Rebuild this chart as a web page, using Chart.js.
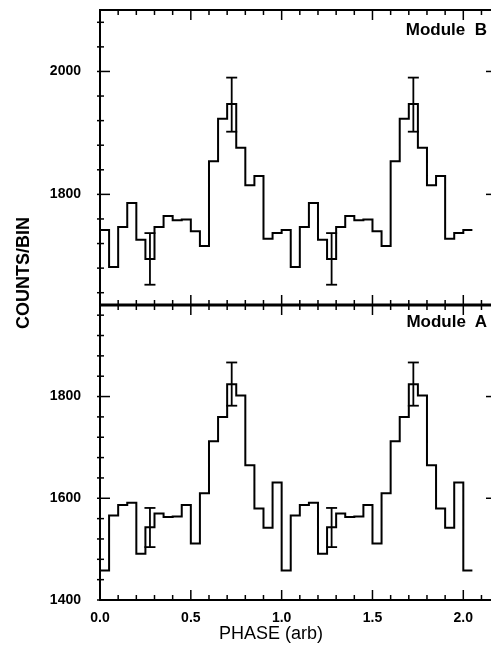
<!DOCTYPE html>
<html>
<head>
<meta charset="utf-8">
<script src="https://cdn.jsdelivr.net/npm/chart.js@4/dist/chart.umd.min.js"></script>
<style>
  html, body { margin: 0; padding: 0; background: #fff; }
  #wrap { position: relative; width: 491px; height: 656px; overflow: hidden; }
  #chart { position: absolute; left: 0; top: 0; }
  .lbl { position: absolute; color: #000; font-family: "Liberation Sans", Arial, Helvetica, sans-serif; white-space: pre; line-height: 1; }
  #ytitle { left: 23px; top: 273px; font-weight: bold; font-size: 18px; transform: translate(-50%, -50%) rotate(-90deg); }
  #xtitle { left: 271px; top: 633px; font-size: 18px; transform: translate(-50%, -50%); }
  .mod { right: 4px; font-weight: bold; font-size: 17px; transform: translateY(-50%); }
</style>
</head>
<body>
<div id="wrap">
  <canvas id="chart" width="500" height="656"></canvas>
  <div class="lbl" id="ytitle">COUNTS/BIN</div>
  <div class="lbl" id="xtitle">PHASE (arb)</div>
  <div class="lbl mod" style="top:29px">Module  B</div>
  <div class="lbl mod" style="top:321px">Module  A</div>
</div>
<script>
// counts per 0.05-phase bin, left edge of each bin at index * BIN_WIDTH
const BIN_WIDTH = 0.05;

const MODULE_B = [
  1742, 1682, 1747, 1786, 1726, 1695, 1747, 1765, 1758, 1759,
  1740, 1716, 1854, 1923, 1947, 1876, 1815, 1830, 1728, 1737,
  1742, 1682, 1747, 1786, 1726, 1695, 1747, 1765, 1758, 1759,
  1740, 1716, 1854, 1923, 1947, 1876, 1815, 1830, 1728, 1737,
  1742,
];

const MODULE_A = [
  1458, 1566, 1587, 1591, 1491, 1543, 1570, 1563, 1564, 1587,
  1511, 1610, 1712, 1760, 1824, 1802, 1665, 1580, 1542, 1631,
  1458, 1566, 1587, 1591, 1491, 1543, 1570, 1563, 1564, 1587,
  1511, 1610, 1712, 1760, 1824, 1802, 1665, 1580, 1542, 1631,
  1458,
];

// sample error bars
const ERR_PHASE = [0.275, 0.725, 1.275, 1.725];
const ERR_B_LO = [1653, 1902, 1653, 1902];
const ERR_B_HI = [1737, 1990, 1737, 1990];
const ERR_A_LO = [1504, 1782, 1504, 1782];
const ERR_A_HI = [1581, 1867, 1581, 1867];

const X_TICKS = [0, 0.5, 1.0, 1.5, 2.0];
const B_TICKS = [1800, 2000];
const A_TICKS = [1400, 1600, 1800];

const FONT = '"Liberation Sans", Arial, Helvetica, sans-serif';

function histPoints(values) {
  const pts = values.map((v, i) => ({ x: i * BIN_WIDTH, y: v }));
  pts.push({ x: values.length * BIN_WIDTH, y: values[values.length - 1] });
  return pts;
}

function line(ctx, x1, y1, x2, y2) {
  ctx.beginPath();
  ctx.moveTo(x1, y1);
  ctx.lineTo(x2, y2);
  ctx.stroke();
}

const frameTicks = {
  id: 'frameTicks',
  afterDatasetsDraw(chart) {
    const { ctx, chartArea: { left, right } } = chart;
    const x = chart.scales.x;
    ctx.save();
    ctx.strokeStyle = '#000';
    ['yB', 'yA'].forEach((id) => {
      const y = chart.scales[id];
      const top = y.top, bottom = y.bottom;
      ctx.lineWidth = 2;
      ctx.strokeRect(left, top, right - left, bottom - top);
      ctx.lineWidth = 1.5;
      for (let v = Math.ceil(y.min / 40) * 40; v <= y.max; v += 40) {
        const py = y.getPixelForValue(v);
        const len = v % 200 === 0 ? 10 : 4;
        line(ctx, left - 3, py, left + len, py);
        line(ctx, right - len, py, right, py);
      }
      for (let i = 1; i * 0.1 < x.max; i++) {
        const px = x.getPixelForValue(i * 0.1);
        const len = i % 5 === 0 ? 10 : 5;
        line(ctx, px, top, px, top + len);
        line(ctx, px, bottom - len, px, bottom);
      }
    });
    ctx.lineWidth = 3;
    line(ctx, left, chart.scales.yB.bottom, right, chart.scales.yB.bottom);
    ctx.restore();
  },
};

const errorBars = {
  id: 'errorBars',
  afterDatasetsDraw(chart) {
    const { ctx } = chart;
    const x = chart.scales.x;
    ctx.save();
    ctx.strokeStyle = '#000';
    ctx.lineWidth = 1.8;
    const draw = (scale, lo, hi) => {
      ERR_PHASE.forEach((p, i) => {
        const px = x.getPixelForValue(p);
        const y1 = scale.getPixelForValue(lo[i]);
        const y2 = scale.getPixelForValue(hi[i]);
        line(ctx, px, y1, px, y2);
        line(ctx, px - 5.5, y1, px + 5.5, y1);
        line(ctx, px - 5.5, y2, px + 5.5, y2);
      });
    };
    draw(chart.scales.yB, ERR_B_LO, ERR_B_HI);
    draw(chart.scales.yA, ERR_A_LO, ERR_A_HI);
    ctx.restore();
  },
};

const yScale = (min, max, ticks) => ({
  type: 'linear',
  position: 'left',
  stack: 'panels',
  stackWeight: 1,
  min,
  max,
  grid: { display: false, drawTicks: false },
  border: { display: false },
  afterFit: (s) => { s.width = 100; s.paddingTop = 0; s.paddingBottom = 0; },
  afterBuildTicks: (s) => { s.ticks = ticks.map((v) => ({ value: v })); },
  ticks: {
    color: '#000',
    padding: 19,
    font: { family: FONT, size: 14, weight: 'bold' },
    callback: (v) => String(v),
  },
});

new Chart(document.getElementById('chart'), {
  type: 'line',
  data: {
    datasets: [
      {
        label: 'Module A',
        data: histPoints(MODULE_A),
        yAxisID: 'yA',
        stepped: 'before',
        borderColor: '#000',
        borderWidth: 2,
        pointRadius: 0,
        fill: false,
      },
      {
        label: 'Module B',
        data: histPoints(MODULE_B),
        yAxisID: 'yB',
        stepped: 'before',
        borderColor: '#000',
        borderWidth: 2,
        pointRadius: 0,
        fill: false,
      },
    ],
  },
  options: {
    responsive: false,
    animation: false,
    devicePixelRatio: 1,
    layout: { padding: { top: 10, right: 4, left: 0, bottom: 0 } },
    plugins: { legend: { display: false }, tooltip: { enabled: false } },
    scales: {
      x: {
        type: 'linear',
        min: 0,
        max: 2.18,
        grid: { display: false, drawTicks: false },
        border: { display: false },
        afterFit: (s) => { s.height = 56; s.paddingLeft = 0; s.paddingRight = 0; },
        afterBuildTicks: (s) => { s.ticks = X_TICKS.map((v) => ({ value: v })); },
        ticks: {
          color: '#000',
          padding: 10,
          maxRotation: 0,
          font: { family: FONT, size: 14, weight: 'bold' },
          callback: (v) => Number(v).toFixed(1),
        },
      },
      yA: yScale(1400, 1980, A_TICKS),
      yB: yScale(1620, 2100, B_TICKS),
    },
  },
  plugins: [frameTicks, errorBars],
});
</script>
</body>
</html>
